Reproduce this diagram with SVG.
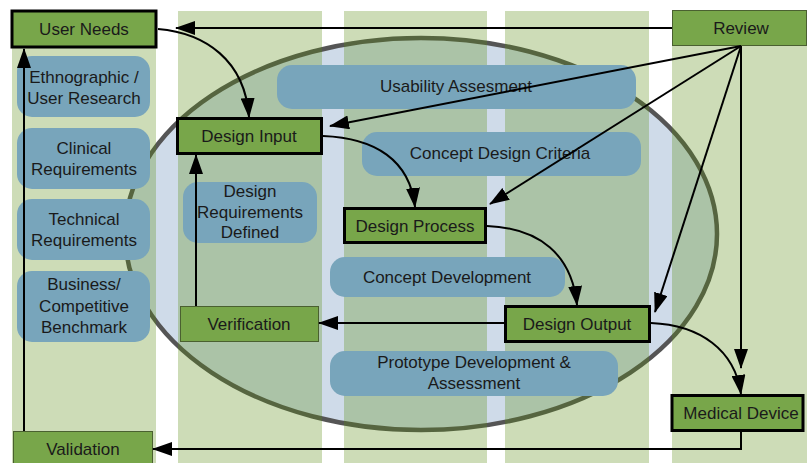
<svg xmlns="http://www.w3.org/2000/svg" width="807" height="463" viewBox="0 0 807 463">
<defs>
<style>
.col{fill:rgb(88,138,18);fill-opacity:0.3}
.pill{fill:#78a5bb}
.box{fill:#78a64a;stroke:#000;stroke-width:3}
.tbox{fill:#78a64a;stroke:#4a6030;stroke-width:1}
text{font-family:"Liberation Sans",Arial,sans-serif;font-size:17px;fill:#1a1a1a;text-anchor:middle}
.c{fill:none;stroke:#000;stroke-width:2;marker-end:url(#ah)}
</style>
<marker id="ah" markerUnits="userSpaceOnUse" viewBox="0 0 20 14" markerWidth="20" markerHeight="14" refX="19" refY="7" orient="auto">
<path d="M0,0 L20,7 L0,14 z" fill="#000"/>
</marker>
</defs>
<rect width="807" height="463" fill="#fff"/>
<ellipse id="cycle" cx="421" cy="234" rx="296" ry="196" fill="#cfdbe9" stroke="#555" stroke-width="4.5"/>
<g id="columns">
<rect class="col" x="12" y="12" width="144" height="451"/>
<rect class="col" x="178" y="11" width="144" height="452"/>
<rect class="col" x="344" y="11" width="143" height="452"/>
<rect class="col" x="505" y="11" width="144" height="452"/>
<rect class="col" x="672" y="11" width="135" height="452"/>
</g>
<g id="activities">
<g id="ethno"><rect class="pill" x="17" y="56" width="133" height="61" rx="15"/><text x="84" y="83">Ethnographic /</text><text x="84" y="104">User Research</text></g>
<g id="clinical"><rect class="pill" x="17" y="128" width="133" height="61" rx="15"/><text x="84" y="154">Clinical</text><text x="84" y="175">Requirements</text></g>
<g id="technical"><rect class="pill" x="17" y="199" width="133" height="61" rx="15"/><text x="84" y="225">Technical</text><text x="84" y="246">Requirements</text></g>
<g id="business"><rect class="pill" x="17" y="271" width="133" height="71" rx="15"/><text x="84" y="290">Business/</text><text x="84" y="312">Competitive</text><text x="84" y="333">Benchmark</text></g>
<g id="designreq"><rect class="pill" x="183" y="182" width="134" height="61" rx="15"/><text x="250" y="197">Design</text><text x="250" y="218">Requirements</text><text x="250" y="238">Defined</text></g>
<g id="usability"><rect class="pill" x="277" y="65" width="359" height="44" rx="15"/><text x="456" y="92">Usability Assesment</text></g>
<g id="criteria"><rect class="pill" x="362" y="132" width="279" height="44" rx="15"/><text x="500" y="159">Concept Design Criteria</text></g>
<g id="conceptdev"><rect class="pill" x="330" y="257" width="235" height="40" rx="15"/><text x="447" y="283">Concept Development</text></g>
<g id="prototype"><rect class="pill" x="330" y="351" width="288" height="45" rx="15"/><text x="474" y="368">Prototype Development &amp;</text><text x="474" y="389">Assessment</text></g>
</g>
<g id="user-needs"><rect class="box" x="12" y="11" width="144" height="36"/><text x="84" y="35">User Needs</text></g>
<g id="review"><rect class="tbox" x="672.5" y="10.5" width="134" height="35"/><text x="741" y="34">Review</text></g>
<g id="design-input"><rect class="box" x="177.5" y="118.5" width="144" height="35"/><text x="249" y="142">Design Input</text></g>
<g id="design-process"><rect class="box" x="344.5" y="208.5" width="141" height="34"/><text x="415" y="232">Design Process</text></g>
<g id="design-output"><rect class="box" x="505.5" y="306.5" width="144" height="35"/><text x="577" y="330">Design Output</text></g>
<g id="verification"><rect class="tbox" x="180.5" y="306.5" width="138" height="35"/><text x="249" y="330">Verification</text></g>
<g id="medical-device"><rect class="box" x="672" y="395.5" width="131" height="35"/><text x="741" y="419">Medical Device</text></g>
<g id="validation"><rect class="tbox" x="13.5" y="431.5" width="139" height="40"/><text x="83" y="455">Validation</text></g>
<g id="connectors">
<path class="c" d="M672,28 H176"/>
<path class="c" d="M158,29 C205,33 245,60 249,117"/>
<path class="c" d="M24,431 V49"/>
<path class="c" d="M196,306 V155"/>
<path class="c" d="M323,136 C375,138 410,160 415,207"/>
<path class="c" d="M487,226 C540,228 572,255 577,305"/>
<path class="c" d="M505,323 H319"/>
<path class="c" d="M651,323 C700,325 735,350 741,394"/>
<path class="c" d="M741,432 V449 H153"/>
<path class="c" d="M741,46 L330,126"/>
<path class="c" d="M741,46 L490,204"/>
<path class="c" d="M741,46 L655,312"/>
<path class="c" d="M741,46 V368"/>
</g>
</svg>
